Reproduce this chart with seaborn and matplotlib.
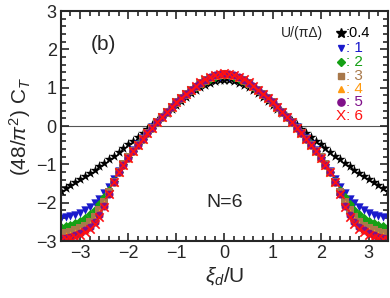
import numpy as np
import pandas as pd
import matplotlib
matplotlib.use("Agg")
import matplotlib.pyplot as plt
from matplotlib.ticker import MultipleLocator
from matplotlib.transforms import IdentityTransform
import seaborn as sns

# half-axis grid (curves are symmetric in xi_d)
xi_half = np.round(np.arange(0, 3.41, 0.1), 2)

ct_04 = [1.20, 1.19, 1.17, 1.13, 1.08, 1.02, 0.94, 0.86, 0.76, 0.66, 0.56, 0.45,
         0.34, 0.23, 0.12, 0.02, -0.08, -0.18, -0.28, -0.38, -0.48, -0.58, -0.68,
         -0.78, -0.87, -0.96, -1.05, -1.14, -1.23, -1.31, -1.39, -1.47, -1.55, -1.62, -1.69]
ct_1 = [1.30, 1.29, 1.26, 1.22, 1.16, 1.09, 1.01, 0.92, 0.82, 0.71, 0.60, 0.49,
        0.37, 0.24, 0.11, -0.03, -0.17, -0.32, -0.47, -0.63, -0.80, -0.98, -1.17,
        -1.38, -1.58, -1.75, -1.89, -2.01, -2.11, -2.19, -2.26, -2.31, -2.35, -2.38, -2.41]
ct_2 = [1.33, 1.32, 1.29, 1.24, 1.18, 1.11, 1.02, 0.93, 0.83, 0.72, 0.61, 0.49,
        0.37, 0.24, 0.10, -0.04, -0.18, -0.33, -0.48, -0.64, -0.81, -0.99, -1.19,
        -1.44, -1.66, -1.86, -2.04, -2.18, -2.30, -2.40, -2.48, -2.54, -2.58, -2.61, -2.63]
ct_3 = [1.35, 1.34, 1.31, 1.26, 1.20, 1.12, 1.03, 0.94, 0.84, 0.73, 0.62, 0.50,
        0.37, 0.24, 0.10, -0.04, -0.19, -0.34, -0.49, -0.65, -0.82, -1.00, -1.20,
        -1.45, -1.72, -1.97, -2.20, -2.37, -2.50, -2.60, -2.67, -2.72, -2.76, -2.79, -2.81]
ct_4 = [1.36, 1.35, 1.32, 1.27, 1.21, 1.13, 1.04, 0.94, 0.84, 0.73, 0.62, 0.50,
        0.37, 0.24, 0.10, -0.04, -0.19, -0.34, -0.50, -0.66, -0.83, -1.01, -1.20,
        -1.45, -1.75, -2.03, -2.28, -2.45, -2.58, -2.68, -2.75, -2.80, -2.84, -2.86, -2.88]
ct_5 = [1.37, 1.36, 1.33, 1.28, 1.21, 1.13, 1.04, 0.95, 0.84, 0.73, 0.62, 0.50,
        0.37, 0.24, 0.10, -0.04, -0.19, -0.34, -0.50, -0.66, -0.83, -1.01, -1.20,
        -1.45, -1.77, -2.08, -2.33, -2.50, -2.63, -2.72, -2.79, -2.85, -2.89, -2.91, -2.93]
ct_6 = [1.38, 1.37, 1.34, 1.29, 1.22, 1.14, 1.05, 0.95, 0.84, 0.73, 0.62, 0.50,
        0.37, 0.24, 0.10, -0.04, -0.19, -0.34, -0.50, -0.66, -0.83, -1.01, -1.20,
        -1.45, -1.78, -2.12, -2.38, -2.55, -2.68, -2.77, -2.84, -2.89, -2.92, -2.95, -2.97]

u_labels = ["0.4", "1", "2", "3", "4", "5", "6"]
series = [ct_04, ct_1, ct_2, ct_3, ct_4, ct_5, ct_6]
colors = ["black", "#1a1acc", "#14a014", "#a8784a", "#ff9a10", "#80108a", "#ff1010"]
markers = ["*", "v", "D", "s", "^", "o", "x"]
sizes = [60, 36, 22, 26, 36, 34, 36]

rows = []
for lab, vals in zip(u_labels, series):
    v = np.array(vals)
    xs = np.concatenate([-xi_half[::-1], xi_half[1:]])
    ys = np.concatenate([v[::-1], v[1:]])
    for a, b in zip(xs, ys):
        rows.append({"xi": a, "ct": b, "U": lab})
df = pd.DataFrame(rows)

sns.set_style("ticks")
plt.rcParams["font.family"] = ["Liberation Sans", "DejaVu Sans"]
plt.rcParams["mathtext.fontset"] = "custom"
plt.rcParams["mathtext.rm"] = "Liberation Sans"
plt.rcParams["mathtext.it"] = "Liberation Sans:italic"

fig = plt.figure(figsize=(3.9, 2.98), dpi=100)
ax = fig.add_axes([0.156, 0.191, 0.839, 0.772])

ax.axhline(0, color="#555555", lw=0.8, zorder=0)

for lab, c, m, s in zip(u_labels, colors, markers, sizes):
    sub = df[df["U"] == lab]
    kw = dict(linewidth=1.2) if m == "x" else dict(linewidth=0)
    sns.scatterplot(data=sub, x="xi", y="ct", color=c, marker=m, s=s, ax=ax,
                    legend=False, **kw)

ax.set_xlim(-3.4, 3.4)
ax.set_ylim(-3, 3)
ax.xaxis.set_major_locator(MultipleLocator(1))
ax.xaxis.set_minor_locator(MultipleLocator(0.2))
ax.yaxis.set_major_locator(MultipleLocator(1))
ax.yaxis.set_minor_locator(MultipleLocator(0.2))
ax.tick_params(which="both", direction="in", top=True, right=True, width=1.2,
               labelsize=13, pad=3)
ax.tick_params(which="major", length=6)
ax.tick_params(which="minor", length=3.5)
for sp in ax.spines.values():
    sp.set_linewidth(1.5)

ax.set_xlabel(r"$\xi_d$/U", fontsize=15, labelpad=2)
ax.set_ylabel(r"(48/$\pi^2$) C$_T$", fontsize=15, labelpad=2)

ax.text(0.09, 0.83, "(b)", transform=ax.transAxes, fontsize=15)
ax.text(0.0, -2.0, "N=6", fontsize=14, ha="center", va="center")

# hand-made legend in pixel coordinates
pix = IdentityTransform()
H = 298
ax.text(281, H - 33, "U/(\u03c0\u0394)", transform=pix, fontsize=10, va="center")
ys_leg = [33, 48, 62, 76, 89, 102, 116]
leg_ms = [7, 4.8, 4, 4, 4.8, 5.2, 0]
for i, (lab, c, m) in enumerate(zip(u_labels, colors, markers)):
    yy = H - ys_leg[i]
    if m == "x":
        ax.text(336, yy, "X: " + lab, transform=pix, fontsize=11, color=c,
                va="center")
        continue
    ax.plot([341], [yy], marker=m, ms=leg_ms[i], color=c, ls="none",
            transform=pix, clip_on=False)
    txt = ":" + lab if i == 0 else ": " + lab
    ax.text(346, yy, txt, transform=pix, fontsize=10.5 if i == 0 else 11,
            color=c, va="center")

fig.savefig("out.png", dpi=100)
